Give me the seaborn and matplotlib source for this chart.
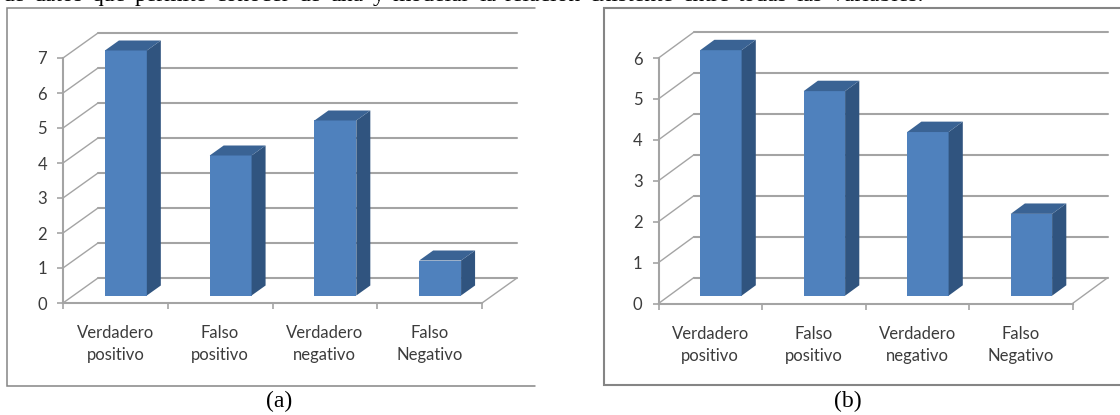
import matplotlib
matplotlib.use("Agg")
import matplotlib.pyplot as plt
from matplotlib.patches import Polygon
from matplotlib.lines import Line2D
import pandas as pd
import seaborn as sns

categories = ["Verdadero\npositivo", "Falso\npositivo", "Verdadero\nnegativo", "Falso\nNegativo"]
values_a = [7, 4, 5, 1]
values_b = [6, 5, 4, 2]
page_line = "de datos que permite conocer de una y modelar la relación existente entre todas las variables."

W, H = 1120, 415
FRONT, SIDE, TOP = "#4f81bd", "#30547f", "#3a6394"
GRID = "#a4a4a4"
TEXT = "#3c3c3c"

sns.set_style("white")
plt.rcParams["font.family"] = ["Lato", "DejaVu Sans"]

fig = plt.figure(figsize=(W / 100, H / 100), dpi=100, facecolor="white")


def px_x(x):
    return x / W


def px_y(y):
    return 1 - y / H


def frame_panel(left, right, top, bottom, lw):
    # open-sided border: the right edge of each panel is left undrawn
    xs = [px_x(right), px_x(left), px_x(left), px_x(right)]
    ys = [px_y(top), px_y(top), px_y(bottom), px_y(bottom)]
    fig.add_artist(Line2D(xs, ys, color="#858585", lw=lw, solid_joinstyle="miter"))


def box_chart(values, x0, x1, y0, ytop, depth_px):
    ax = fig.add_axes([px_x(x0), px_y(y0), px_x(x1) - px_x(x0), px_y(ytop) - px_y(y0)])
    ax.patch.set_alpha(0)
    frame = pd.DataFrame({"categoria": categories, "valor": values})
    sns.barplot(data=frame, x="categoria", y="valor", color=FRONT, saturation=1,
                width=0.4, ax=ax, zorder=3, linewidth=0)
    vmax = max(values)
    xmin, xmax = -0.5, len(values) - 0.5
    ax.set_xlim(xmin, xmax)
    ax.set_ylim(0, vmax)

    # oblique projection of the chart depth, expressed in data units
    dx = depth_px[0] / ((x1 - x0) / len(values))
    dy = depth_px[1] / ((y0 - ytop) / vmax)

    # walls and floor
    for level in range(vmax + 1):
        ax.plot([xmin, xmin + dx], [level, level + dy], color=GRID, lw=1.0,
                zorder=1, clip_on=False)
        ax.plot([xmin + dx, xmax + dx], [level + dy, level + dy], color=GRID, lw=1.5,
                zorder=1, clip_on=False)
    ax.plot([xmax, xmax + dx], [0, dy], color=GRID, lw=1.0, zorder=1, clip_on=False)

    # extrude each bar: front face sits 30% into the depth, back face at 70%
    for bar in ax.patches[:len(values)]:
        bx, bw, bh = bar.get_x() + 0.3 * dx, bar.get_width(), bar.get_height()
        by = 0.3 * dy
        bar.set_x(bx)
        bar.set_y(by)
        bar.set_clip_on(False)
        ex, ey = 0.4 * dx, 0.4 * dy
        ax.add_patch(Polygon([(bx + bw, by), (bx + bw + ex, by + ey),
                              (bx + bw + ex, by + bh + ey), (bx + bw, by + bh)],
                             closed=True, fc=SIDE, ec="none", zorder=3, clip_on=False))
        ax.add_patch(Polygon([(bx, by + bh), (bx + bw, by + bh),
                              (bx + bw + ex, by + bh + ey), (bx + ex, by + bh + ey)],
                             closed=True, fc=TOP, ec="none", zorder=3, clip_on=False))

    sns.despine(ax=ax, top=True, right=True)
    for side in ("left", "bottom"):
        ax.spines[side].set_color(GRID)
        ax.spines[side].set_linewidth(1.5)
    ax.set_xlabel("")
    ax.set_ylabel("")
    ax.set_yticks(range(vmax + 1))
    ax.set_xticks([xmin + i for i in range(len(values) + 1)])
    ax.set_xticklabels([])
    ax.set_xticks(range(len(values)), labels=categories, minor=True)
    ax.tick_params(axis="y", length=4.5, width=1.2, color=GRID, pad=7,
                   labelsize=12, labelcolor=TEXT, left=True)
    ax.tick_params(axis="x", which="major", length=4.5, width=1.2, color=GRID, bottom=True)
    ax.tick_params(axis="x", which="minor", length=0, pad=16, labelsize=12,
                   labelcolor=TEXT)
    for label in ax.get_xticklabels(minor=True):
        label.set_linespacing(1.45)
    return ax


frame_panel(7, 535, 8.5, 386, 1.1)
frame_panel(603.5, 1120, 8.5, 385, 1.5)
box_chart(values_a, 63, 482, 303, 58, (35, 25))
box_chart(values_b, 658.5, 1072.5, 303.5, 58, (35.5, 26))

serif = ["Liberation Serif", "DejaVu Serif"]
fig.text(px_x(279), px_y(401), "(a)", family=serif, fontsize=17, ha="center", va="center", color="black")
fig.text(px_x(848), px_y(401), "(b)", family=serif, fontsize=17, ha="center", va="center", color="black")

# justified line of running text above the figures, cut by the page edge
renderer = fig.canvas.get_renderer()
words = [fig.text(0, px_y(0.8), w, family=serif, fontsize=17, va="baseline", color="black")
         for w in page_line.split()]
widths = [t.get_window_extent(renderer).width for t in words]
line_start, line_end = 2, 923
gap = (line_end - line_start - sum(widths)) / (len(words) - 1)
cursor = line_start
for t, w in zip(words, widths):
    t.set_x(px_x(cursor))
    cursor += w + gap

fig.savefig("out.png", dpi=100)
